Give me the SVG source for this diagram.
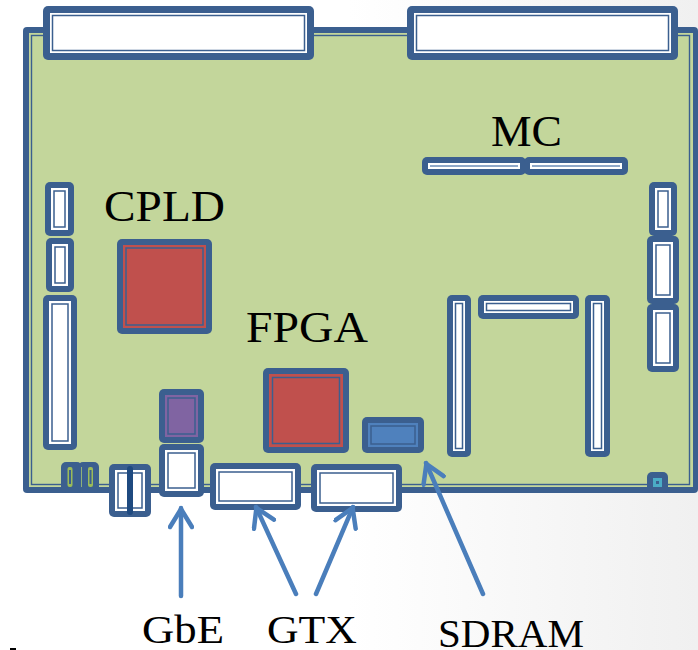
<svg xmlns="http://www.w3.org/2000/svg" width="698" height="650" viewBox="0 0 698 650">
<defs>
<linearGradient id="bg" x1="0" y1="0" x2="1" y2="0"><stop offset="0.5" stop-color="#ffffff"/><stop offset="1" stop-color="#f0f0f0"/></linearGradient>
<marker id="ah" markerUnits="userSpaceOnUse" viewBox="0 0 24 26" markerWidth="24" markerHeight="26" refX="22" refY="13" orient="auto"><path d="M3 2 L21 13 L3 24" fill="none" stroke="#4a7ebb" stroke-width="4.500" stroke-linecap="round" stroke-linejoin="miter"/></marker>
</defs>
<style>
.o{fill:#3b5f8f;stroke:none}
.r{fill:#fff;stroke:none}
.l{fill:#fff;stroke:#3b5f8f;stroke-width:1.5}
.c{fill:#c0504d}
.cr{fill:#c0504d;stroke:#3b5f8f;stroke-width:1.5}
.cl{font-family:"Liberation Serif",serif;fill:#000}
.a{fill:none;stroke:#4a7ebb;stroke-width:4.500;stroke-linecap:round;marker-end:url(#ah)}
</style>
<rect width="698" height="650" fill="url(#bg)"/>
<rect x="10" y="648" width="6" height="2" fill="#000"/>
<g id="board">
<rect x="23" y="27" width="675" height="466" rx="4" fill="#3b5f8f"/>
<rect x="29" y="33" width="664" height="454" fill="#c3d69b"/>
<rect x="31.500" y="35.500" width="658" height="449" fill="#c3d69b" stroke="#3b5f8f" stroke-width="1.400"/>
</g>
<g id="conn-top-1"><rect class="o" x="43" y="6" width="271" height="54" rx="5"/><rect class="r" x="50" y="13" width="257" height="40"/><rect class="l" x="52.500" y="15.500" width="252" height="35"/></g>
<g id="conn-top-2"><rect class="o" x="407" y="6" width="271" height="54" rx="5"/><rect class="r" x="414" y="13" width="257" height="40"/><rect class="l" x="416.500" y="15.500" width="252" height="35"/></g>
<g id="mc-1"><rect class="o" x="422" y="157" width="104" height="18" rx="5"/><rect class="r" x="428" y="163" width="92" height="6"/><rect x="430" y="165" width="88" height="2" fill="#8fa8c8"/></g>
<g id="mc-2"><rect class="o" x="524" y="157" width="104" height="18" rx="5"/><rect class="r" x="530" y="163" width="92" height="6"/><rect x="532" y="165" width="88" height="2" fill="#8fa8c8"/></g>
<g id="left-1"><rect class="o" x="45" y="182" width="29" height="54" rx="5"/><rect class="r" x="51" y="188" width="17" height="42"/><rect class="l" x="54" y="191" width="11" height="36"/></g>
<g id="left-2"><rect class="o" x="46" y="238" width="28" height="54" rx="5"/><rect class="r" x="52" y="244" width="16" height="42"/><rect class="l" x="55" y="247" width="10" height="36"/></g>
<g id="left-3"><rect class="o" x="43" y="295" width="34" height="155" rx="5"/><rect class="r" x="49" y="301" width="22" height="143"/><rect class="l" x="52" y="304" width="16" height="137"/></g>
<g id="cpld"><rect class="o" x="117" y="239" width="95" height="95" rx="5"/><rect class="c" x="123" y="245" width="83" height="83"/><rect class="cr" x="126" y="248" width="77" height="77"/></g>
<g id="fpga"><rect class="o" x="263" y="368" width="86" height="85" rx="5"/><rect class="c" x="269" y="374" width="74" height="73"/><rect class="cr" x="272.500" y="377.500" width="67" height="66"/></g>
<g id="sdram"><rect class="o" x="362" y="417" width="62" height="36" rx="5"/><rect x="368" y="423" width="50" height="24" fill="#4f81bd"/><rect x="371" y="426" width="44" height="18" fill="#4f81bd" stroke="#3b5f8f" stroke-width="1.500"/></g>
<g id="purple"><rect class="o" x="159" y="389" width="45" height="54" rx="5"/><rect x="165" y="395" width="33" height="42" fill="#8064a2"/><rect x="168" y="398" width="27" height="36" fill="#8064a2" stroke="#3b5f8f" stroke-width="1.500"/></g>
<g id="gbe"><rect class="o" x="159" y="444" width="45" height="53" rx="5"/><rect class="r" x="165" y="450" width="33" height="41"/><rect class="l" x="168" y="453" width="27" height="35"/></g>
<g id="gtx-1"><rect class="o" x="210" y="463" width="91" height="47" rx="5"/><rect class="r" x="216" y="469" width="79" height="35"/><rect class="l" x="219" y="472" width="73" height="29"/></g>
<g id="gtx-2"><rect class="o" x="311" y="464" width="91" height="48" rx="5"/><rect class="r" x="317" y="470" width="79" height="36"/><rect class="l" x="320" y="473" width="73" height="30"/></g>
<g id="small-conn"><rect class="o" x="109" y="464" width="42" height="53" rx="5"/><rect class="r" x="115" y="470" width="30" height="41"/><rect class="l" x="118" y="473" width="24" height="35"/><rect x="127" y="466" width="6" height="49" rx="3" fill="#1f4a80"/></g>
<g id="green-1"><rect class="o" x="61" y="462" width="21" height="31" rx="5"/><rect x="67.500" y="467" width="5" height="20" rx="2" fill="#9bbb59"/><rect x="69" y="470" width="2" height="14" fill="#3b5f8f"/></g>
<g id="green-2"><rect class="o" x="78" y="462" width="21" height="31" rx="5"/><rect x="88" y="467" width="5" height="20" rx="2" fill="#9bbb59"/><rect x="89.500" y="470" width="2" height="14" fill="#3b5f8f"/><rect x="81" y="467" width="1" height="20" fill="#8fb07a"/></g>
<g id="v-1"><rect class="o" x="447" y="295" width="24" height="162" rx="5"/><rect class="r" x="453" y="301" width="12" height="150"/><rect class="l" x="455.500" y="303.500" width="7" height="145"/></g>
<g id="v-2"><rect class="o" x="585" y="295" width="25" height="162" rx="5"/><rect class="r" x="591" y="301" width="13" height="150"/><rect class="l" x="593.500" y="303.500" width="8" height="145"/></g>
<g id="h-1"><rect class="o" x="478" y="295" width="101" height="24" rx="5"/><rect class="r" x="484" y="301" width="89" height="12"/><rect class="l" x="486.500" y="303.500" width="84" height="7"/></g>
<g id="right-1"><rect class="o" x="649" y="182" width="28" height="54" rx="5"/><rect class="r" x="655" y="188" width="16" height="42"/><rect class="l" x="658" y="191" width="10" height="36"/></g>
<g id="right-2"><rect class="o" x="647" y="236" width="32" height="68" rx="5"/><rect class="r" x="653" y="242" width="20" height="56"/><rect class="l" x="656" y="245" width="14" height="50"/></g>
<g id="right-3"><rect class="o" x="647" y="304" width="32" height="68" rx="5"/><rect class="r" x="653" y="310" width="20" height="56"/><rect class="l" x="656" y="313" width="14" height="50"/></g>
<g id="tiny"><rect class="o" x="647" y="472" width="21" height="21" rx="5"/><rect x="653" y="478" width="9" height="9" fill="#4bacc6"/><rect x="656" y="481" width="3" height="3" fill="#3b5f8f"/></g>
<g id="connectors">
<line class="a" x1="181" y1="596" x2="181" y2="508"/>
<line class="a" x1="296" y1="594" x2="256" y2="507"/>
<line class="a" x1="316" y1="594" x2="353" y2="507"/>
<line class="a" x1="483" y1="594" x2="426" y2="463"/>
</g>
<g id="labels" class="cl">
<text x="104" y="221" font-size="45" textLength="121" lengthAdjust="spacingAndGlyphs">CPLD</text>
<text x="246" y="342" font-size="45" textLength="122" lengthAdjust="spacingAndGlyphs">FPGA</text>
<text x="491" y="146" font-size="45" textLength="71" lengthAdjust="spacingAndGlyphs">MC</text>
<text x="142" y="643" font-size="40" textLength="82" lengthAdjust="spacingAndGlyphs">GbE</text>
<text x="267" y="643" font-size="40" textLength="90" lengthAdjust="spacingAndGlyphs">GTX</text>
<text x="438" y="647" font-size="40" textLength="146" lengthAdjust="spacingAndGlyphs">SDRAM</text>
</g>
</svg>
